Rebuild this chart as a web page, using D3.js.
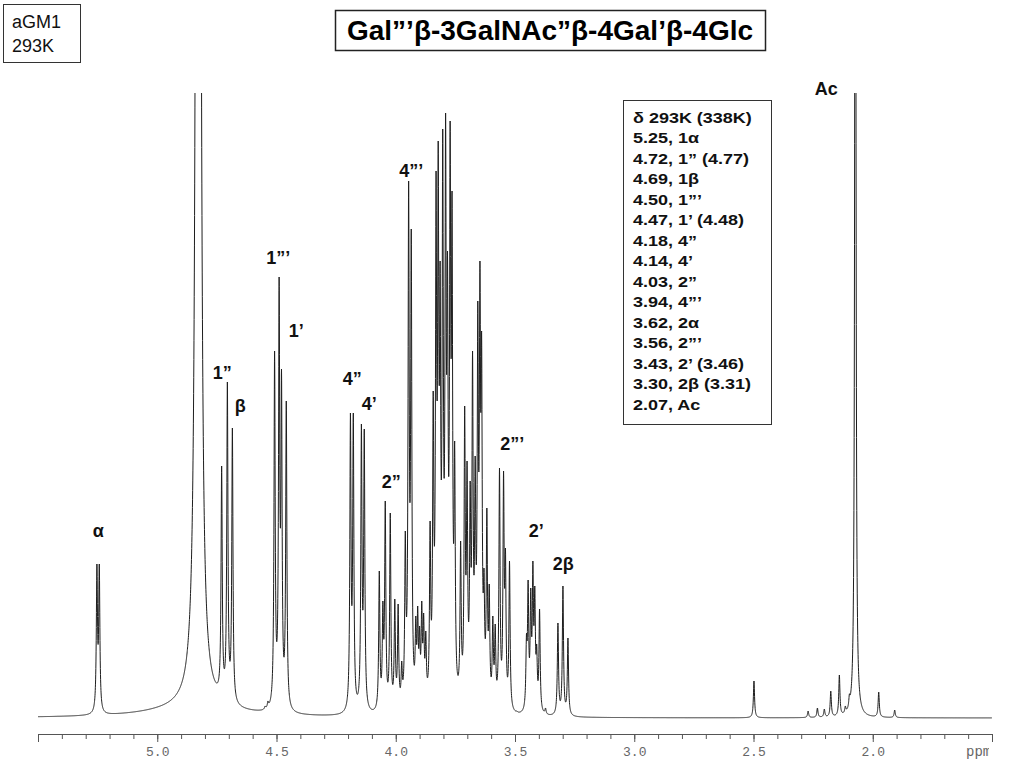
<!DOCTYPE html>
<html>
<head>
<meta charset="utf-8">
<script src="https://cdn.jsdelivr.net/npm/d3@7"></script>
<style>
body { margin: 0; background: #fff; }
svg { display: block; }
</style>
</head>
<body>
<div id="spectrum"></div>
<script>
// peak tops: shift (ppm) and height above the baseline
var linePpm = [
  5.253, 5.243,
  4.730, 4.706, 4.685,
  4.548, 4.536, 4.523,
  4.508, 4.489, 4.479, 4.459,
  4.190, 4.178, 4.144, 4.132,
  4.069, 4.054, 4.044, 4.023, 4.004, 3.990, 3.975, 3.960,
  3.946, 3.935,
  3.916, 3.908, 3.900, 3.891, 3.883, 3.874,
  3.856, 3.843, 3.831, 3.822, 3.814, 3.803, 3.791, 3.783, 3.772, 3.764, 3.753,
  3.728, 3.711, 3.701, 3.688, 3.678, 3.667, 3.656, 3.647, 3.640,
  3.630, 3.618, 3.608, 3.593, 3.583,
  3.565, 3.548, 3.540, 3.523,
  3.504, 3.492,
  3.452, 3.445, 3.434, 3.425, 3.417, 3.409, 3.397,
  3.372,
  3.320, 3.299, 3.278,
  2.498, 2.271, 2.232, 2.203, 2.176, 2.140, 2.115, 2.098, 1.975, 1.908
];
var lineTop = [
  154, 154,
  252, 336, 290,
  12, 17, 11,
  367, 441, 349, 317,
  305, 305, 294, 289,
  147, 117, 217, 205, 119, 114, 57, 187,
  537, 489,
  102, 112, 92, 117, 105, 87,
  197, 327, 547, 577, 457, 589, 605, 467, 597, 527, 277,
  177, 312, 257, 237, 367, 262, 417, 457, 387,
  150, 210, 134, 102, 94,
  250, 247, 170, 157,
  6, 7,
  84, 138, 130, 157, 132, 74, 109,
  10,
  95, 132, 80,
  37, 7, 10, 9, 27, 43, 12, 24, 26, 8
];
var lineWidth = 0.0029;

// off-scale signals: HDO, its broad foot, acetyl singlet
var bigPpm = [4.828, 4.85, 2.073];
var bigAmp = [19400, 10, 1400];
var bigWidth = [0.0025, 0.21, 0.0025];

var majorTicks = [5.0, 4.5, 4.0, 3.5, 3.0, 2.5, 2.0];

var labelText = ["α", "1”", "β", "1”’", "1’", "4”", "4’", "2”", "4”’", "2”’", "2’", "2β", "Ac"];
var labelPpm = [5.247, 4.727, 4.652, 4.493, 4.417, 4.182, 4.111, 4.019, 3.935, 3.512, 3.411, 3.298, 2.195];
var labelLevel = [181, 339, 306, 454, 381, 333, 308, 230, 541, 268, 181, 148, 623];

var legendLines = [
  "δ 293K (338K)", "5.25, 1α", "4.72, 1” (4.77)", "4.69, 1β", "4.50, 1”’",
  "4.47, 1’ (4.48)", "4.18, 4”", "4.14, 4’", "4.03, 2”", "3.94, 4”’",
  "3.62, 2α", "3.56, 2”’", "3.43, 2’ (3.46)", "3.30, 2β (3.31)", "2.07, Ac"
];

var width = 1024, height = 768;

var svg = d3.select('#spectrum')
  .append('svg')
  .attr('width', width)
  .attr('height', height);

var x = d3.scaleLinear().domain([5.5, 1.5]).range([38, 992]);
var y = d3.scaleLinear().domain([0, 625]).range([718, 93]);

function lorentz(p, c, a, w) {
  var d = (p - c) / w;
  return a / (1 + d * d);
}

var lineAmp = lineTop.slice();

function spectrumAt(p) {
  var s = 0;
  for (var i = 0; i < linePpm.length; i++) s += lorentz(p, linePpm[i], lineAmp[i], lineWidth);
  for (var j = 0; j < bigPpm.length; j++) s += lorentz(p, bigPpm[j], bigAmp[j], bigWidth[j]);
  return s;
}

// adjust line amplitudes so the summed curve tops out at the read heights
for (var it = 0; it < 60; it++) {
  linePpm.forEach(function(c, i) {
    lineAmp[i] = Math.max(0, lineAmp[i] + 0.6 * (lineTop[i] - spectrumAt(c)));
  });
}

var points = d3.range(5.5, 1.5, -0.0005).map(function(p) { return [p, spectrumAt(p)]; });

svg.append('clipPath').attr('id', 'plotclip')
  .append('rect').attr('x', 38).attr('y', 93).attr('width', 954).attr('height', 640);

svg.append('path')
  .datum(points)
  .attr('clip-path', 'url(#plotclip)')
  .attr('fill', 'none')
  .attr('stroke', '#1e1e1e')
  .attr('stroke-width', 1)
  .attr('d', d3.line().x(d => x(d[0])).y(d => y(d[1])));

// ppm axis
var minorAxis = svg.append('g')
  .attr('transform', 'translate(0,734)')
  .call(d3.axisBottom(x).tickValues(x.ticks(40)).tickSize(5).tickFormat(''));
var majorAxis = svg.append('g')
  .attr('transform', 'translate(0,734)')
  .call(d3.axisBottom(x).tickValues(majorTicks).tickSize(8).tickPadding(5).tickFormat(d3.format('.1f')));
svg.selectAll('.domain, .tick line').attr('stroke', '#555');
majorAxis.selectAll('text')
  .attr('font-family', '"Liberation Mono", "DejaVu Sans Mono", monospace')
  .attr('font-size', 13)
  .attr('fill', '#666');

svg.append('clipPath').attr('id', 'unitclip')
  .append('rect').attr('x', 940).attr('y', 735).attr('width', 49).attr('height', 30);
svg.append('text')
  .attr('clip-path', 'url(#unitclip)')
  .attr('x', 966).attr('y', 756)
  .attr('font-family', '"Liberation Mono", "DejaVu Sans Mono", monospace')
  .attr('font-size', 14).attr('fill', '#666')
  .text('ppm');

// peak labels
svg.selectAll('.peaklabel')
  .data(labelText)
  .enter()
  .append('text')
  .attr('class', 'peaklabel')
  .attr('x', (d, i) => x(labelPpm[i]))
  .attr('y', (d, i) => y(labelLevel[i]))
  .attr('text-anchor', 'middle')
  .attr('font-family', '"Liberation Sans", Arial, sans-serif')
  .attr('font-weight', 'bold')
  .attr('font-size', 18)
  .attr('fill', '#111')
  .text(d => d);

// shift table
svg.append('rect')
  .attr('x', 623.5).attr('y', 100.5).attr('width', 148).attr('height', 324)
  .attr('fill', '#fff').attr('stroke', '#333').attr('stroke-width', 1);
var legendGroup = svg.append('g')
  .attr('transform', 'translate(633,0) scale(1.2,1)');
legendGroup.selectAll('.legendline')
  .data(legendLines)
  .enter()
  .append('text')
  .attr('class', 'legendline')
  .attr('x', 0)
  .attr('y', (d, i) => 123 + i * 20.5)
  .attr('font-family', '"Liberation Sans", Arial, sans-serif')
  .attr('font-weight', 'bold')
  .attr('font-size', 15)
  .attr('fill', '#111')
  .text(d => d);

// title and sample boxes
svg.append('rect')
  .attr('x', 335.5).attr('y', 10.5).attr('width', 430).attr('height', 40)
  .attr('fill', '#fff').attr('stroke', '#222').attr('stroke-width', 1.5);
svg.append('text')
  .attr('x', 550).attr('y', 40)
  .attr('text-anchor', 'middle')
  .attr('font-family', '"Liberation Sans", Arial, sans-serif')
  .attr('font-weight', 'bold')
  .attr('font-size', 28)
  .attr('fill', '#000')
  .text('Gal”’β-3GalNAc”β-4Gal’β-4Glc');

svg.append('rect')
  .attr('x', 3.5).attr('y', 4.5).attr('width', 77).attr('height', 58)
  .attr('fill', '#fff').attr('stroke', '#333').attr('stroke-width', 1);
svg.append('text')
  .attr('x', 12).attr('y', 28)
  .attr('font-family', '"Liberation Sans", Arial, sans-serif')
  .attr('font-size', 18).attr('fill', '#111')
  .text('aGM1');
svg.append('text')
  .attr('x', 12).attr('y', 52)
  .attr('font-family', '"Liberation Sans", Arial, sans-serif')
  .attr('font-size', 18).attr('fill', '#111')
  .text('293K');
</script>
</body>
</html>
